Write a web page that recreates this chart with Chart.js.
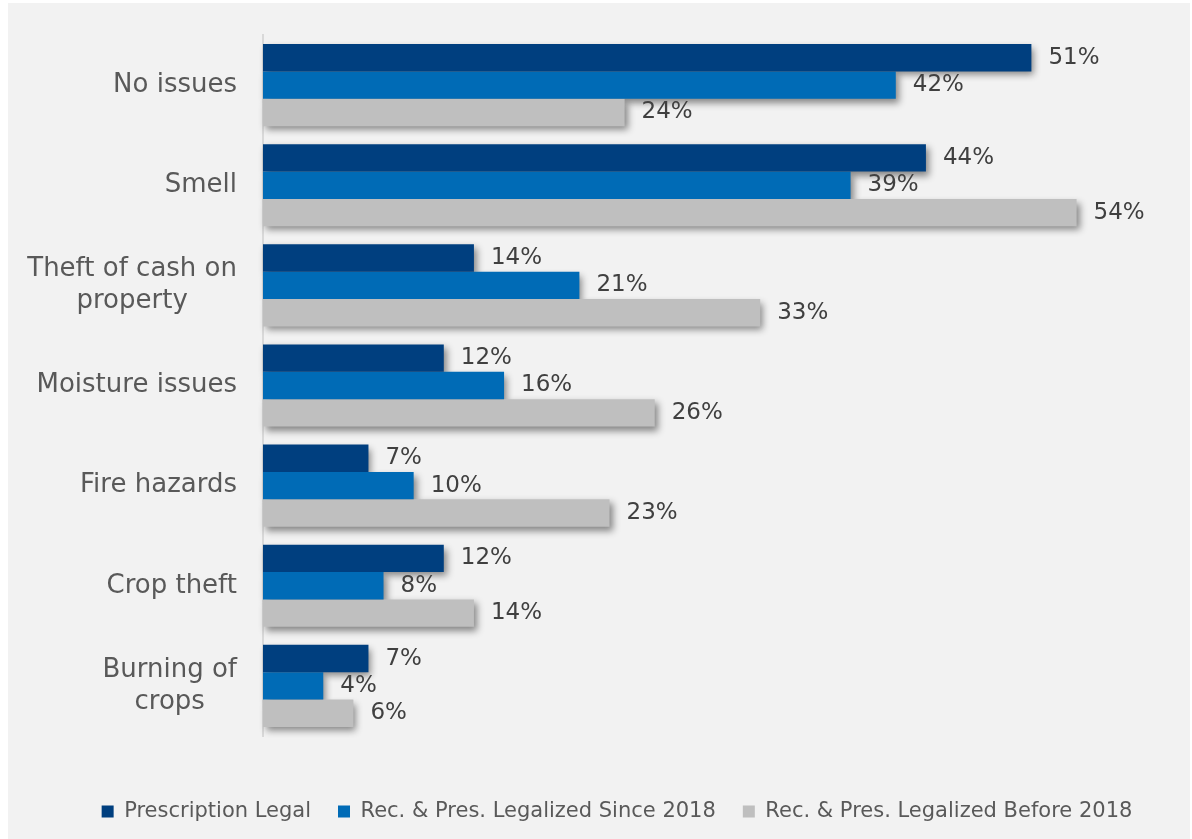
<!DOCTYPE html>
<html>
<head>
<meta charset="utf-8">
<title>Issues reported</title>
<script src="https://cdn.jsdelivr.net/npm/chart.js@4.4.0/dist/chart.umd.min.js"></script>
<style>
  body { margin: 0; background: #fff; }
  #panel { position: absolute; left: 8px; top: 3px; width: 1182px; height: 836px; background: #f2f2f2; }
</style>
</head>
<body>
<div id="panel"><canvas id="myChart"></canvas></div>
<script>
//Datos
const categorias = ['No issues', 'Smell', ['Theft of cash on', 'property'], 'Moisture issues', 'Fire hazards', 'Crop theft', ['Burning of', 'crops']];
const series = ['Prescription Legal', 'Rec. & Pres. Legalized Since 2018', 'Rec. & Pres. Legalized Before 2018'];
const prescripcion = [51, 44, 14, 12, 7, 12, 7];
const desde2018 = [42, 39, 21, 16, 10, 8, 4];
const antes2018 = [24, 54, 33, 26, 23, 14, 6];

//Colores y fuente
const color1 = '#003F7F';
const color2 = '#006BB6';
const color3 = '#BFBFBF';
const fuente = '"DejaVu Sans", sans-serif';

//Sombra de las barras (se dibuja antes que las barras)
const sombraBarras = {
    id: 'sombraBarras',
    beforeDatasetsDraw(chart) {
        const ctx = chart.ctx;
        const off = 4000;
        ctx.save();
        ctx.shadowColor = 'rgba(0,0,0,0.45)';
        ctx.shadowBlur = 7;
        ctx.shadowOffsetX = off + 3;
        ctx.shadowOffsetY = 4;
        ctx.fillStyle = '#000';
        chart.data.datasets.forEach((ds, i) => {
            chart.getDatasetMeta(i).data.forEach(bar => {
                const p = bar.getProps(['x', 'y', 'base', 'height'], true);
                ctx.fillRect(p.base - off, p.y - p.height / 2, p.x - p.base, p.height);
            });
        });
        ctx.restore();
    }
};

//Etiquetas de valor al final de cada barra
const etiquetasDatos = {
    id: 'etiquetasDatos',
    afterDatasetsDraw(chart) {
        const ctx = chart.ctx;
        ctx.save();
        ctx.font = '23px ' + fuente;
        ctx.fillStyle = '#404040';
        ctx.textAlign = 'left';
        ctx.textBaseline = 'middle';
        chart.data.datasets.forEach((ds, i) => {
            chart.getDatasetMeta(i).data.forEach((bar, j) => {
                const p = bar.getProps(['x', 'y'], true);
                ctx.fillText(ds.data[j] + '%', p.x + 17, p.y);
            });
        });
        ctx.restore();
    }
};

//Etiquetas de categoria (alineadas a la derecha, lineas centradas)
const etiquetasEje = {
    id: 'etiquetasEje',
    afterDraw(chart) {
        const ctx = chart.ctx;
        const yScale = chart.scales.y;
        ctx.save();
        ctx.font = '26px ' + fuente;
        ctx.fillStyle = '#595959';
        ctx.textAlign = 'center';
        ctx.textBaseline = 'middle';
        categorias.forEach((lab, i) => {
            const lineas = Array.isArray(lab) ? lab : [lab];
            const ancho = Math.max(...lineas.map(l => ctx.measureText(l).width));
            const cx = chart.chartArea.left - 26 - ancho / 2;
            const y0 = yScale.getPixelForValue(i) - (lineas.length - 1) * 16;
            lineas.forEach((l, k) => ctx.fillText(l, cx, y0 + k * 32));
        });
        ctx.restore();
    }
};

const cdx = document.getElementById('myChart');
new Chart(cdx, {
    type: 'bar',
    data: {
        labels: categorias,
        datasets: [
            { label: series[0], data: prescripcion, backgroundColor: color1 },
            { label: series[1], data: desde2018, backgroundColor: color2 },
            { label: series[2], data: antes2018, backgroundColor: color3 },
        ],
    },
    options: {
        indexAxis: 'y',
        responsive: true,
        maintainAspectRatio: false,
        animation: false,
        datasets: {
            bar: { categoryPercentage: 0.82, barPercentage: 1 }
        },
        layout: {
            padding: { left: 59, right: 23, top: 32, bottom: 7 }
        },
        scales: {
            x: { display: false, min: 0, max: 60 },
            y: {
                ticks: { display: false },
                grid: { display: false, drawTicks: false },
                border: { display: true, color: '#D9D9D9', width: 2 },
                afterFit(scale) { scale.width = 196; }
            }
        },
        plugins: {
            legend: {
                position: 'bottom',
                title: { display: true, text: '', font: { size: 12 }, padding: { top: 10, bottom: 13.6 } },
                labels: {
                    font: { size: 21, family: fuente },
                    color: '#595959',
                    boxWidth: 12,
                    boxHeight: 12,
                    padding: 27
                }
            },
            tooltip: { enabled: false }
        }
    },
    plugins: [sombraBarras, etiquetasDatos, etiquetasEje]
});
</script>
</body>
</html>
